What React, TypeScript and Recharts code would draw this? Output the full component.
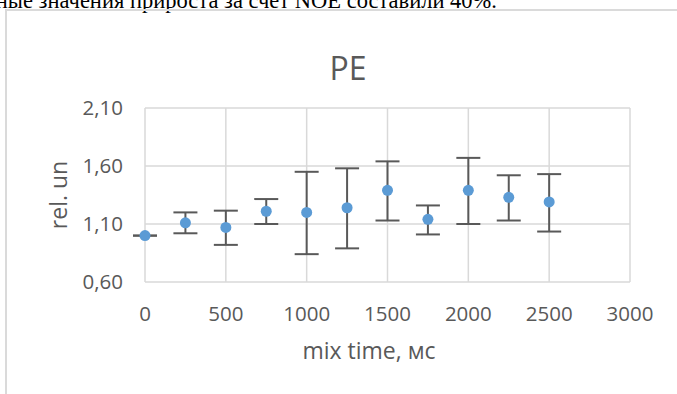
import React from "react";
import { ScatterChart, Scatter, XAxis, YAxis, CartesianGrid, ErrorBar, Label } from "recharts";

const mixTimes = [0, 250, 500, 750, 1000, 1250, 1500, 1750, 2000, 2250, 2500];
const relValues = [1.0, 1.11, 1.07, 1.21, 1.2, 1.24, 1.39, 1.14, 1.39, 1.33, 1.29];
const errLow = [0, 0.09, 0.15, 0.11, 0.36, 0.35, 0.26, 0.13, 0.29, 0.2, 0.255];
const errHigh = [0, 0.09, 0.145, 0.105, 0.35, 0.34, 0.25, 0.12, 0.28, 0.19, 0.24];
const xTicks = [0, 500, 1000, 1500, 2000, 2500, 3000];
const yTicks = [0.6, 1.1, 1.6, 2.1];

const data = mixTimes.map((t, i) => ({ t, v: relValues[i], err: [errLow[i], errHigh[i]] }));

const FONT = "'Open Sans', sans-serif";
const GRAY = "#595959";

const Dot = (props: any) => <circle cx={props.cx} cy={props.cy} r={5.5} fill="#5b9bd5" />;

export default function App() {
  return (
    <div style={{ position: "fixed", left: 0, top: 0, width: 677, height: 394, overflow: "hidden", background: "#fff" }}>
      {/* tail of the paragraph above the chart, cut by the page edge */}
      <div
        style={{
          position: "absolute",
          right: 180,
          top: -10.3,
          fontFamily: "'Liberation Serif', serif",
          fontSize: 22.5,
          lineHeight: "22.5px",
          whiteSpace: "nowrap",
          color: "#000",
        }}
      >
        ные значения прироста за счет NOE составили 40%.
      </div>
      <div style={{ position: "absolute", left: 5, top: 9, width: 720, height: 420, border: "2px solid #dadada", boxSizing: "border-box" }} />
      <div
        style={{
          position: "absolute",
          left: 0,
          width: 696,
          top: 46,
          textAlign: "center",
          fontFamily: FONT,
          fontSize: 32,
          lineHeight: "44px",
          color: GRAY,
        }}
      >
        PE
      </div>
      <div style={{ position: "absolute", left: 0, top: 0 }}>
        <ScatterChart width={677} height={394} margin={{ top: 108, right: 47, bottom: 52, left: 0 }}>
          <CartesianGrid stroke="#d9d9d9" strokeWidth={1.5} />
          <XAxis
            type="number"
            dataKey="t"
            domain={[0, 3000]}
            ticks={xTicks}
            axisLine={false}
            tickLine={false}
            tickSize={0}
            tickMargin={24}
            height={60}
            interval={0}
            tick={{ fill: GRAY, fontFamily: FONT, fontSize: 20.5 }}
          >
            <Label
              content={(p: any) => {
                const vb = p.viewBox || { x: 145, y: 282, width: 485 };
                return (
                  <text x={vb.x + vb.width / 2 - 18.5} y={vb.y + 77} textAnchor="middle" fill={GRAY} fontFamily={FONT} fontSize={23}>
                    mix time, мс
                  </text>
                );
              }}
            />
          </XAxis>
          <YAxis
            type="number"
            dataKey="v"
            domain={[0.6, 2.1]}
            ticks={yTicks}
            width={145}
            axisLine={false}
            tickLine={false}
            tickSize={0}
            tickMargin={22}
            interval={0}
            tickFormatter={(v: number) => v.toFixed(2).replace(".", ",")}
            tick={{ fill: GRAY, fontFamily: FONT, fontSize: 20.5 }}
          >
            <Label
              content={(p: any) => {
                const vb = p.viewBox || { x: 0, y: 108, height: 174 };
                const cx = vb.x + 66.5;
                const cy = vb.y + vb.height / 2;
                return (
                  <text x={cx} y={cy} transform={`rotate(-90 ${cx} ${cy})`} textAnchor="middle" fill={GRAY} fontFamily={FONT} fontSize={23}>
                    rel. un
                  </text>
                );
              }}
            />
          </YAxis>
          <Scatter data={data} shape={Dot} isAnimationActive={false}>
            <ErrorBar dataKey="err" direction="y" width={12} strokeWidth={2} stroke={GRAY} />
          </Scatter>
        </ScatterChart>
      </div>
    </div>
  );
}
